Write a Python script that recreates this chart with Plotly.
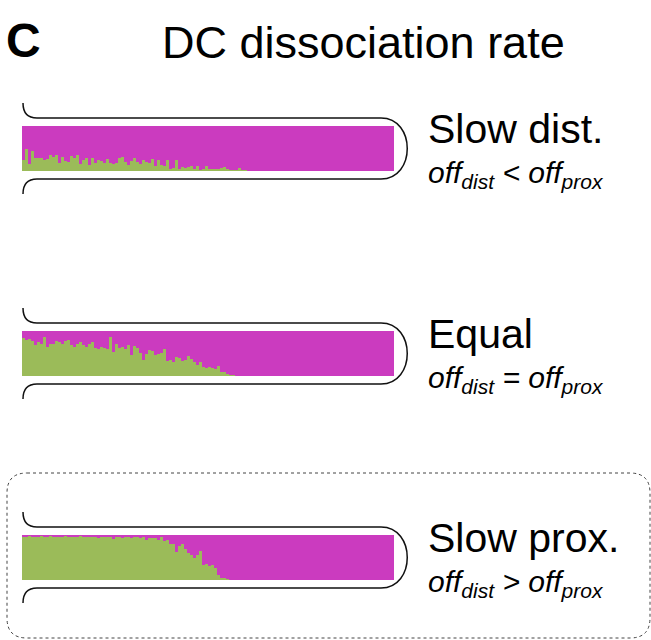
import plotly.graph_objects as go

W, H = 651, 640

# Fraction of distal (green) signal per position bin along the cilium, tip at the right
bins = list(range(124))

green_slow_dist = [
    0.24, 0.50, 0.15, 0.44, 0.28, 0.29, 0.29, 0.24, 0.26, 0.35, 0.32, 0.35, 0.17, 0.32, 0.22, 0.20,
    0.33, 0.28, 0.35, 0.15, 0.24, 0.29, 0.13, 0.29, 0.17, 0.24, 0.22, 0.17, 0.26, 0.17, 0.15, 0.17,
    0.29, 0.31, 0.19, 0.13, 0.22, 0.30, 0.20, 0.15, 0.25, 0.20, 0.18, 0.26, 0.12, 0.24, 0.14, 0.12,
    0.24, 0.05, 0.06, 0.24, 0.05, 0.09, 0.06, 0.10, 0.11, 0.05, 0.12, 0.03, 0.04, 0.12, 0.05, 0.05,
    0.04, 0.04, 0.06, 0.10, 0.04, 0.02, 0.02, 0.02, 0.06, 0.02, 0.03, 0.01, 0.01, 0.01,
] + [0.0] * 46

green_equal = [
    0.85, 0.80, 0.83, 0.78, 0.68, 0.76, 0.72, 0.87, 0.65, 0.71, 0.72, 0.78, 0.75, 0.72, 0.78, 0.80,
    0.69, 0.65, 0.72, 0.75, 0.69, 0.65, 0.72, 0.76, 0.63, 0.60, 0.65, 0.63, 0.60, 0.87, 0.54, 0.72,
    0.62, 0.65, 0.60, 0.70, 0.46, 0.67, 0.63, 0.52, 0.35, 0.50, 0.58, 0.55, 0.46, 0.50, 0.52, 0.60,
    0.33, 0.36, 0.31, 0.43, 0.40, 0.33, 0.35, 0.45, 0.37, 0.31, 0.25, 0.31, 0.20, 0.18, 0.20, 0.18,
    0.16, 0.22, 0.10, 0.08, 0.05, 0.02, 0.02, 0.01,
] + [0.0] * 52

green_slow_prox = [
    0.97, 0.96, 0.98, 0.96, 0.97, 0.95, 0.98, 0.97, 0.96, 0.98, 0.95, 0.97, 0.97, 0.96, 0.98, 0.95,
    0.97, 0.96, 0.97, 0.98, 0.95, 0.96, 0.97, 0.97, 0.95, 0.93, 0.96, 0.97, 0.95, 0.96, 0.92, 0.96,
    0.97, 0.94, 0.95, 0.97, 0.93, 0.96, 0.95, 0.94, 0.96, 0.90, 0.93, 0.93, 0.94, 0.88, 0.97, 0.87,
    0.88, 0.81, 0.80, 0.63, 0.75, 0.80, 0.70, 0.60, 0.55, 0.50, 0.55, 0.64, 0.33, 0.36, 0.31, 0.34,
    0.27, 0.12, 0.05, 0.05, 0.02, 0.01,
] + [0.0] * 54

panels = [
    ("Slow dist.", "&lt;", green_slow_dist, 126, 171),
    ("Equal", "=", green_equal, 331, 376),
    ("Slow prox.", "&gt;", green_slow_prox, 535, 580),
]

GREEN = "#9BBB59"
MAGENTA = "#CB3BBF"

def px(x):
    return x / W

def py(y):
    return 1 - y / H

fig = go.Figure()
layout = dict(
    width=W, height=H, margin=dict(l=0, r=0, t=0, b=0),
    paper_bgcolor="white", plot_bgcolor="white",
    barmode="stack", bargap=0, showlegend=False,
    font=dict(family="Liberation Sans, Arial, sans-serif", color="black"),
)

shapes = []
annotations = []
bar_left, bar_right = 22, 394

for i, (label, rel, green, top, bottom) in enumerate(panels):
    n = i + 1
    xa = "x" if n == 1 else f"x{n}"
    ya = "y" if n == 1 else f"y{n}"
    magenta = [round(1 - g, 3) for g in green]
    fig.add_trace(go.Bar(x=bins, y=green, marker=dict(color=GREEN, line=dict(width=0)),
                         xaxis=xa, yaxis=ya, hoverinfo="skip"))
    fig.add_trace(go.Bar(x=bins, y=magenta, marker=dict(color=MAGENTA, line=dict(width=0)),
                         xaxis=xa, yaxis=ya, hoverinfo="skip"))
    axname = "xaxis" if n == 1 else f"xaxis{n}"
    ayname = "yaxis" if n == 1 else f"yaxis{n}"
    layout[axname] = dict(domain=[px(bar_left), px(bar_right)], range=[-0.5, 123.5],
                          visible=False, anchor=ya, fixedrange=True)
    layout[ayname] = dict(domain=[py(bottom), py(top)], range=[0, 1],
                          visible=False, anchor=xa, fixedrange=True)

    # cilium outline: membrane hooks at the base, rounded tip on the right
    ot, ob = top - 8, bottom + 8
    hook = 15
    xr = 381
    path = (
        f"M {px(23)},{py(ot - hook)} Q {px(23)},{py(ot)} {px(37)},{py(ot)} "
        f"L {px(xr)},{py(ot)} "
        f"C {px(xr + 35)},{py(ot)} {px(xr + 35)},{py(ob)} {px(xr)},{py(ob)} "
        f"L {px(37)},{py(ob)} Q {px(23)},{py(ob)} {px(23)},{py(ob + hook)}"
    )
    shapes.append(dict(type="path", path=path, xref="paper", yref="paper",
                       line=dict(color="#111111", width=1.5)))

    annotations.append(dict(text=label, x=px(426), y=py(top + 3), xref="paper", yref="paper",
                            xanchor="left", yanchor="middle", showarrow=False,
                            font=dict(size=41)))
    annotations.append(dict(
        text=f"<i>off<sub>dist</sub> {rel} off<sub>prox</sub></i>",
        x=px(426), y=py(top + 48), xref="paper", yref="paper",
        xanchor="left", yanchor="middle", showarrow=False, font=dict(size=30)))

# dotted frame around the slow-proximal case
r = 20
x0, x1, y0, y1 = 7, 650, 473, 638
frame = (
    f"M {px(x0 + r)},{py(y0)} L {px(x1 - r)},{py(y0)} Q {px(x1)},{py(y0)} {px(x1)},{py(y0 + r)} "
    f"L {px(x1)},{py(y1 - r)} Q {px(x1)},{py(y1)} {px(x1 - r)},{py(y1)} "
    f"L {px(x0 + r)},{py(y1)} Q {px(x0)},{py(y1)} {px(x0)},{py(y1 - r)} "
    f"L {px(x0)},{py(y0 + r)} Q {px(x0)},{py(y0)} {px(x0 + r)},{py(y0)} Z"
)
shapes.append(dict(type="path", path=frame, xref="paper", yref="paper",
                   line=dict(color="#444444", width=1, dash="dot")))

annotations.append(dict(text="<b>C</b>", x=px(23), y=py(40), xref="paper", yref="paper",
                        xanchor="center", yanchor="middle", showarrow=False, font=dict(size=48)))
annotations.append(dict(text="DC dissociation rate", x=px(363), y=py(43), xref="paper",
                        yref="paper", xanchor="center", yanchor="middle", showarrow=False,
                        font=dict(size=45)))

layout["shapes"] = shapes
layout["annotations"] = annotations
fig.update_layout(**layout)
fig.write_html("out.html")
